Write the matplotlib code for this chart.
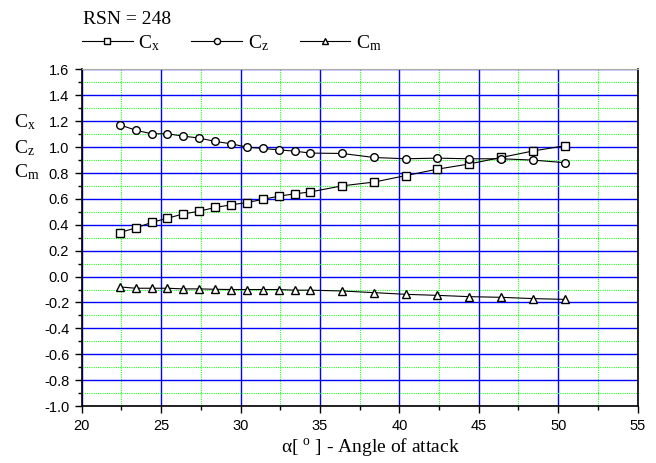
import matplotlib
matplotlib.use('Agg')
import matplotlib.pyplot as plt
from matplotlib.ticker import MultipleLocator

# Data
alpha = [22.4, 23.4, 24.4, 25.4, 26.4, 27.4, 28.4, 29.4, 30.4, 31.4, 32.4,
         33.4, 34.4, 36.4, 38.4, 40.4, 42.4, 44.4, 46.4, 48.4, 50.4]
cx = [0.34, 0.376, 0.418, 0.451, 0.484, 0.505, 0.534, 0.554, 0.572, 0.596, 0.621,
      0.639, 0.654, 0.701, 0.73, 0.78, 0.83, 0.87, 0.92, 0.97, 1.01]
cz = [1.172, 1.131, 1.103, 1.103, 1.085, 1.07, 1.044, 1.026, 1.0, 0.99, 0.979,
      0.969, 0.954, 0.951, 0.92, 0.91, 0.915, 0.91, 0.91, 0.90, 0.88]
cm = [-0.08, -0.09, -0.09, -0.09, -0.095, -0.095, -0.098, -0.10, -0.10, -0.10, -0.10,
      -0.105, -0.105, -0.111, -0.124, -0.137, -0.145, -0.155, -0.160, -0.170, -0.176]

plt.rcParams['font.family'] = ['Liberation Serif', 'DejaVu Serif']
plt.rcParams['mathtext.fontset'] = 'custom'
plt.rcParams['mathtext.rm'] = 'Liberation Serif'
plt.rcParams['mathtext.it'] = 'Liberation Serif:italic'

fig = plt.figure(figsize=(6.56, 4.63), dpi=100)
ax = fig.add_axes([0.1245, 0.123, 0.8475, 0.727])

style = dict(color='black', lw=0.8, markerfacecolor='white', markeredgecolor='black',
             markeredgewidth=1.0, markersize=5.5)
ax.plot(alpha, cx, marker='s', label=r'C$_\mathrm{x}$', **style)
ax.plot(alpha, cz, marker='o', label=r'C$_\mathrm{z}$', **style)
ax.plot(alpha, cm, marker='^', label=r'C$_\mathrm{m}$', **style)

ax.set_xlim(20, 55)
ax.set_ylim(-1.0, 1.6)
ax.xaxis.set_major_locator(MultipleLocator(5))
ax.xaxis.set_minor_locator(MultipleLocator(2.5))
ax.yaxis.set_major_locator(MultipleLocator(0.2))
ax.yaxis.set_minor_locator(MultipleLocator(0.1))
ax.yaxis.set_major_formatter(matplotlib.ticker.FormatStrFormatter('%.1f'))

# blue major grid, green dotted minor grid
ax.grid(which='major', color='#0000ff', lw=1.0, ls='-')
ax.grid(which='minor', color='#22ff22', lw=0.8, ls=(0, (1, 1)))
ax.set_axisbelow(True)

ax.tick_params(which='major', direction='out', length=5, width=1, pad=4, labelsize=10.5)
ax.tick_params(which='minor', direction='out', length=3, width=1)
for lab in ax.get_xticklabels() + ax.get_yticklabels():
    lab.set_fontfamily('Liberation Sans')
for side in ['left', 'bottom', 'right']:
    ax.spines[side].set_linewidth(1.2)
ax.spines['top'].set_color('#aaaaaa')

ax.set_xlabel(r'$\mathrm{\alpha}$[ $^\mathrm{o}$ ] - Angle of attack', fontsize=14, labelpad=6)
ax.xaxis.set_label_coords(0.52, -0.09)

# stacked y label
fig.text(0.022, 1 - 122 / 463, r'C$_\mathrm{x}$', fontsize=14, va='center')
fig.text(0.022, 1 - 148 / 463, r'C$_\mathrm{z}$', fontsize=14, va='center')
fig.text(0.022, 1 - 172 / 463, r'C$_\mathrm{m}$', fontsize=14, va='center')

fig.text(83 / 656, 1 - 20 / 463, 'RSN = 248', fontsize=14, va='center')

ax.legend(loc='upper left', bbox_to_anchor=(82 / 656, 1 - 33 / 463),
          bbox_transform=fig.transFigure, ncol=3, frameon=False, fontsize=14,
          handlelength=2.6, handletextpad=0.3, columnspacing=1.6, borderpad=0,
          borderaxespad=0, markerscale=0.8)

fig.savefig('out.png', dpi=100)
